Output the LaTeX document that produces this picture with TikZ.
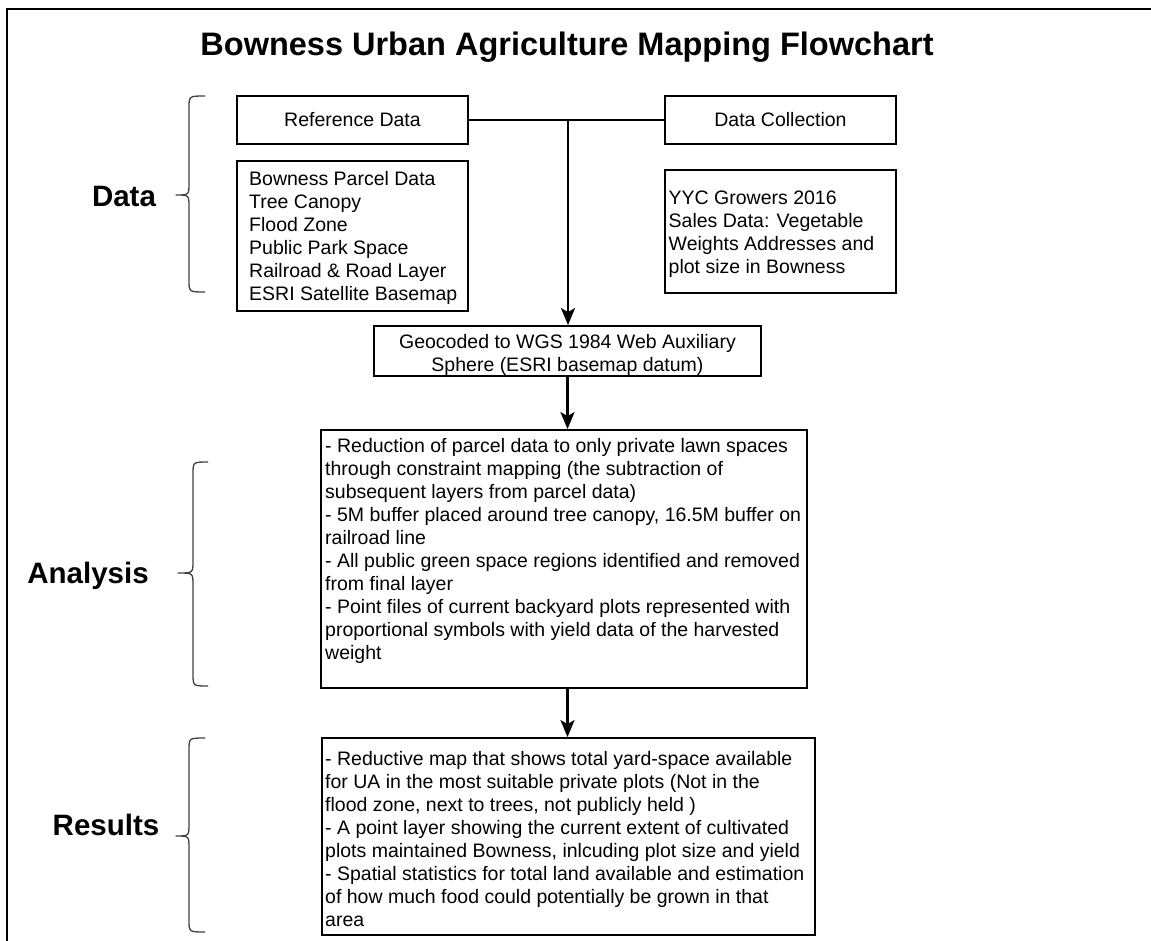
\documentclass[tikz,border=0pt]{standalone}
\usepackage{fontspec}
\setmainfont{Liberation Sans}
\usetikzlibrary{arrows.meta,calc}
\begin{document}
\begin{tikzpicture}[x=1pt,y=-1pt,
  box/.style={draw, line width=1.8pt, inner sep=0pt, font=\fontsize{19.5}{23}\selectfont},
  txt/.style={inner sep=0pt, align=left, font=\fontsize{19.5}{23}\selectfont},
  conn/.style={line width=2.6pt},
  arr/.style={conn, -{Stealth[length=17pt,width=14pt,inset=4pt]}},
  bracestyle/.style={line width=1.3pt, black!75, line join=round},
  lbl/.style={font=\fontsize{29.5}{34}\selectfont\bfseries, inner sep=0pt}
]
\useasboundingbox (0,0) rectangle (1151,941);
\draw[line width=2pt] (7,941) -- (7,9) -- (1151,9);

\node[font=\fontsize{32.5}{38}\selectfont\bfseries, anchor=base, inner sep=0pt] (title) at (567,56) {Bowness Urban Agriculture Mapping Flowchart};

% boxes (a multi-line text node's base anchor is its last baseline)
\node[box, minimum width=231pt, minimum height=48pt] (ref) at (352.5,120) {Reference Data};
\node[box, minimum width=231pt, minimum height=48pt] (dc) at (780.5,120) {Data Collection};
\node[box, minimum width=231pt, minimum height=150pt] (reflist) at (352.5,236) {};
\node[txt, anchor=base west] (reflistT) at (249,301) {Bowness Parcel Data\\Tree Canopy\\Flood Zone\\Public Park Space\\Railroad \& Road Layer\\ESRI Satellite Basemap};
\node[box, minimum width=231pt, minimum height=123pt] (yyc) at (780.5,231.5) {};
\node[txt, anchor=base west] (yycT) at (668.5,274) {YYC Growers 2016\\Sales Data: Vegetable\\Weights Addresses and\\plot size in Bowness};
\node[box, minimum width=387pt, minimum height=50pt] (geo) at (567.5,351) {};
\node[txt, align=center, anchor=base] (geoT) at (567.5,371) {Geocoded to WGS 1984 Web Auxiliary\\Sphere (ESRI basemap datum)};
\node[box, minimum width=486pt, minimum height=258pt] (ana) at (564,559) {};
\node[txt, anchor=base west] (anaT) at (325,659) {- Reduction of parcel data to only private lawn spaces\\through constraint mapping (the subtraction of\\subsequent layers from parcel data)\\- 5M buffer placed around tree canopy, 16.5M buffer on\\railroad line\\- All public green space regions identified and removed\\from final layer\\- Point files of current backyard plots represented with\\proportional symbols with yield data of the harvested\\weight};
\node[box, minimum width=493pt, minimum height=197pt] (res) at (568.5,836.5) {};
\node[txt, anchor=base west] (resT) at (325,926) {- Reductive map that shows total yard-space available\\for UA in the most suitable private plots (Not in the\\flood zone, next to trees, not publicly held )\\- A point layer showing the current extent of cultivated\\plots maintained Bowness, inlcuding plot size and yield\\- Spatial statistics for total land available and estimation\\of how much food could potentially be grown in that\\area};

% connectors
\coordinate (j) at (568,120);
\draw[conn] (ref.east) -- (dc.west);
\draw[arr] (j) -- (j |- geo.north);
\draw[arr] (geo.south) -- (geo.south |- ana.north);
\draw[arr] (geo.south |- ana.south) -- (geo.south |- res.north);

% braces
\draw[bracestyle] (205,96) .. controls (189,96) .. (189,108) -- (189,183) .. controls (189,195) .. (176,195) .. controls (189,195) .. (189,207) -- (189,280) .. controls (189,292) .. (205,292);
\draw[bracestyle] (208,462) .. controls (193,462) .. (193,474) -- (193,561) .. controls (193,573) .. (178,573) .. controls (193,573) .. (193,585) -- (193,674) .. controls (193,686) .. (208,686);
\draw[bracestyle] (205,738) .. controls (189,738) .. (189,750) -- (189,824) .. controls (189,836) .. (176,836) .. controls (189,836) .. (189,848) -- (189,920) .. controls (189,932) .. (205,932);

% labels
\node[lbl, anchor=base] (ldata) at (124,207) {Data};
\node[lbl, anchor=base] (lana) at (88,583) {Analysis};
\node[lbl, anchor=base] (lres) at (106,835) {Results};
\end{tikzpicture}
\end{document}
